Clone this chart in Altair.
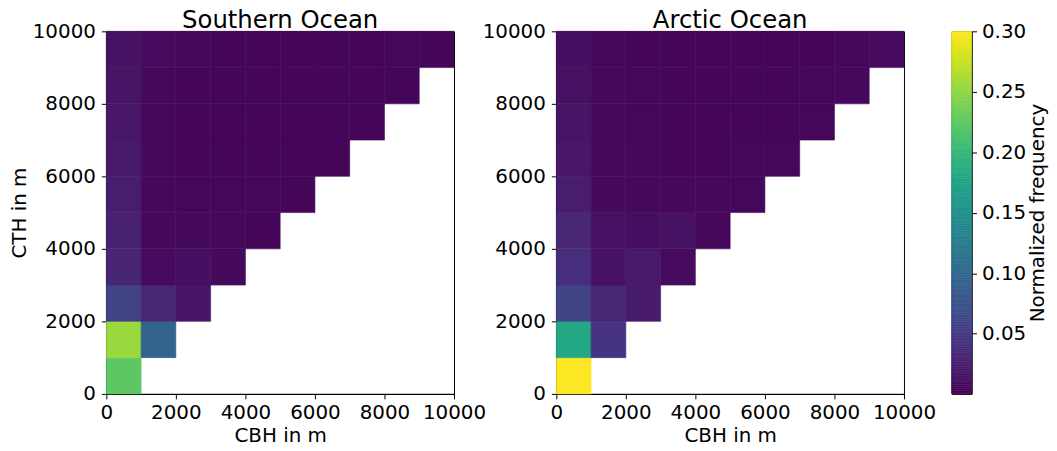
import altair as alt
import pandas as pd

# Bin edges (m)
bin_edges = [0, 1000, 2000, 3000, 4000, 5000, 6000, 7000, 8000, 9000, 10000]

# Normalized frequency; row j = CTH bin, entries for CBH bins 0..j
southern_rows = [
    [0.225],
    [0.255, 0.095],
    [0.058, 0.032, 0.017],
    [0.030, 0.008, 0.011, 0.007],
    [0.027, 0.006, 0.007, 0.006, 0.004],
    [0.022, 0.006, 0.005, 0.005, 0.005, 0.004],
    [0.020, 0.006, 0.004, 0.004, 0.004, 0.004, 0.003],
    [0.018, 0.006, 0.004, 0.003, 0.003, 0.003, 0.004, 0.003],
    [0.015, 0.006, 0.004, 0.003, 0.003, 0.003, 0.003, 0.003, 0.004],
    [0.013, 0.008, 0.005, 0.004, 0.003, 0.003, 0.003, 0.003, 0.005, 0.004],
]
arctic_rows = [
    [0.300],
    [0.180, 0.045],
    [0.058, 0.032, 0.020],
    [0.040, 0.014, 0.020, 0.008],
    [0.032, 0.012, 0.011, 0.013, 0.006],
    [0.022, 0.007, 0.006, 0.006, 0.006, 0.005],
    [0.018, 0.007, 0.006, 0.004, 0.004, 0.005, 0.005],
    [0.015, 0.007, 0.005, 0.004, 0.004, 0.004, 0.004, 0.005],
    [0.012, 0.006, 0.005, 0.004, 0.003, 0.003, 0.004, 0.005, 0.006],
    [0.010, 0.005, 0.004, 0.003, 0.003, 0.003, 0.003, 0.003, 0.006, 0.008],
]

axis_ticks = [0, 2000, 4000, 6000, 8000, 10000]
colorbar_ticks = [0.05, 0.10, 0.15, 0.20, 0.25, 0.30]
color_min, color_max = 0.0003, 0.30

FONT = "DejaVu Sans"
color_scale = alt.Scale(scheme="viridis", domain=[color_min, color_max])


def to_frame(rows):
    recs = []
    for j, row in enumerate(rows):
        for i, v in enumerate(row):
            recs.append({
                "cbh": bin_edges[i], "cbh2": bin_edges[i + 1],
                "cth": bin_edges[j], "cth2": bin_edges[j + 1],
                "freq": v,
            })
    return pd.DataFrame(recs)


def panel(rows, title, show_ytitle):
    df = to_frame(rows)
    xs = alt.Scale(domain=[0, 10000], nice=False, zero=False)
    ys = alt.Scale(domain=[0, 10000], nice=False, zero=False)
    return alt.Chart(df, title=alt.TitleParams(title, fontSize=24.5, font=FONT,
                                               fontWeight="normal", offset=-12,
                                               color="black")).mark_rect(strokeWidth=0.6).encode(
        x=alt.X("cbh:Q", scale=xs,
                axis=alt.Axis(values=axis_ticks, title="CBH in m", format="d",
                              labelPadding=4, titlePadding=3)),
        x2="cbh2:Q",
        y=alt.Y("cth:Q", scale=ys,
                axis=alt.Axis(values=axis_ticks, format="d", labelPadding=6,
                              title="CTH in m" if show_ytitle else None,
                              titlePadding=3)),
        y2="cth2:Q",
        color=alt.Color("freq:Q", scale=color_scale, legend=None),
        stroke=alt.Color("freq:Q", scale=color_scale, legend=None),
    ).properties(width=350, height=365)


# colour bar built as its own small panel
n_steps = 200
step = (color_max - color_min) / n_steps
cb = pd.DataFrame({
    "lo": [color_min + k * step for k in range(n_steps)],
    "hi": [color_min + (k + 1) * step for k in range(n_steps)],
})
cb["mid"] = (cb["lo"] + cb["hi"]) / 2

colorbar = alt.Chart(cb).mark_rect(strokeWidth=0.6).encode(
    x=alt.value(0), x2=alt.value(20),
    y=alt.Y("lo:Q", scale=alt.Scale(domain=[color_min, color_max], nice=False, zero=False),
            axis=alt.Axis(orient="right", values=colorbar_ticks, format=".2f",
                          title="Normalized frequency", titleAngle=270,
                          titleBaseline="top", titlePadding=2, tickSize=5,
                          labelPadding=5)),
    y2="hi:Q",
    color=alt.Color("mid:Q", scale=color_scale, legend=None),
    stroke=alt.Color("mid:Q", scale=color_scale, legend=None),
).properties(width=20, height=365)

left = panel(southern_rows, "Southern Ocean", True)
right = panel(arctic_rows, "Arctic Ocean", False)

chart = alt.hconcat(
    alt.hconcat(left, right, spacing=-6),
    colorbar,
    spacing=14,
).resolve_scale(color="shared").properties(
    padding={"top": -2, "left": 0, "right": 0, "bottom": 0}
).configure_view(
    stroke="black", strokeWidth=1
).configure_axis(
    grid=False, domainColor="black", tickColor="black", labelColor="black",
    titleColor="black", labelFontSize=20, titleFontSize=20, labelFont=FONT,
    titleFont=FONT, titleFontWeight="normal", tickSize=5,
    domainWidth=1, labelOverlap=False, labelFlush=False,
)

chart.save("out.html", embed_options={"renderer": "svg", "actions": False})
